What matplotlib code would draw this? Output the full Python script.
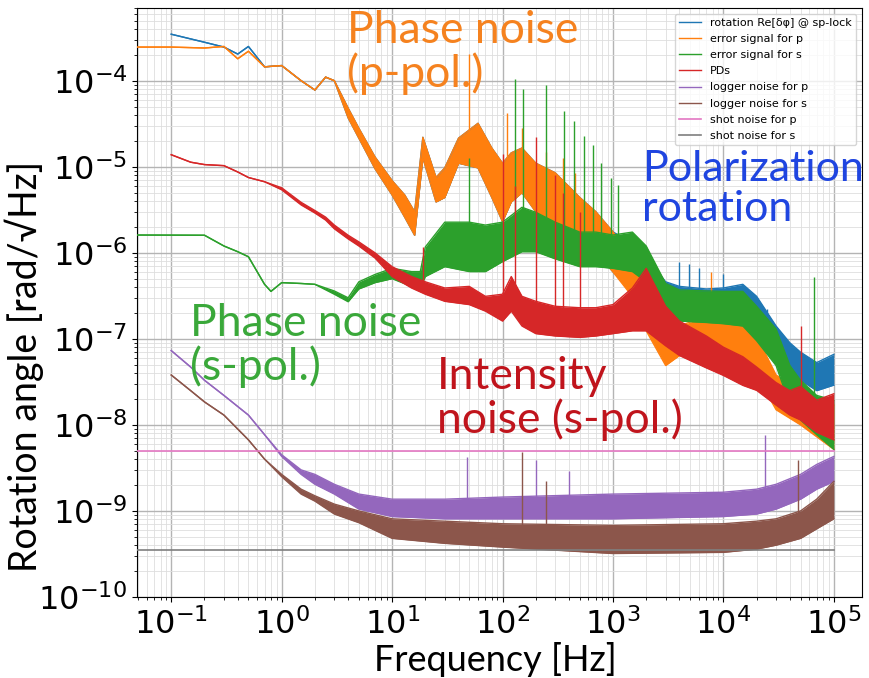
import matplotlib
matplotlib.use("Agg")
import matplotlib.pyplot as plt
from matplotlib.ticker import LogLocator, NullFormatter

# ---- data (Hz, rad/sqrt(Hz)) ----
# each noisy spectrum: upper / lower edge of the band, plus a few narrow lines

f_blue = [0.1, 0.2, 0.3, 0.4, 0.5, 0.7, 1, 1.5, 2, 2.5, 3, 4, 5, 7, 10, 13, 16, 19, 25, 30,
          40, 60, 80, 100, 120, 150, 200, 300, 500, 700, 1e3, 1.5e3, 2e3, 3e3, 4e3, 7e3,
          1e4, 1.5e4, 2e4, 3e4, 4e4, 5e4, 7e4, 1e5]
hi_blue = [3.47e-4, 2.8e-4, 2.46e-4, 2.04e-4, 2.5e-4, 1.45e-4, 1.5e-4, 1.0e-4, 7.8e-5, 1.1e-4,
           1.0e-4, 4.8e-5, 2.8e-5, 1.3e-5, 6.9e-6, 4.7e-6, 3.0e-6, 2.2e-5, 7.5e-6, 9.7e-6,
           2.15e-5, 3.2e-5, 1.65e-5, 1.1e-5, 1.45e-5, 1.65e-5, 1.1e-5, 8.5e-6, 4.4e-6, 3.0e-6,
           1.75e-6, 1.3e-6, 9e-7, 4.6e-7, 4.07e-7, 3.8e-7, 3.9e-7, 4.3e-7, 3.12e-7, 1.41e-7,
           9e-8, 7e-8, 5.3e-8, 6.6e-8]
lo_blue = [3.47e-4, 2.8e-4, 2.46e-4, 2.04e-4, 2.5e-4, 1.45e-4, 1.5e-4, 1.0e-4, 7.8e-5, 1.1e-4,
           1.0e-4, 3.7e-5, 2.15e-5, 9.5e-6, 4.7e-6, 2.6e-6, 1.6e-6, 1.27e-5, 3.9e-6, 4.4e-6,
           1.1e-5, 9.7e-6, 4.4e-6, 2.3e-6, 3.9e-6, 5e-6, 3.0e-6, 2e-6, 1.34e-6, 1.03e-6,
           6e-7, 4.0e-7, 3.1e-7, 2.1e-7, 1.9e-7, 1.84e-7, 1.9e-7, 1.9e-7, 1.41e-7, 6.4e-8,
           4.3e-8, 3.3e-8, 2.5e-8, 2.9e-8]

f_orange = [0.04, 0.1, 0.2, 0.3, 0.4, 0.5, 0.7, 1, 1.5, 2, 2.5, 3, 4, 5, 7, 10, 13, 16, 19, 25,
            30, 40, 60, 80, 100, 120, 150, 200, 300, 500, 700, 1e3, 1.5e3, 2e3, 3e3, 4e3, 7e3,
            1e4, 1.5e4, 2e4, 3e4, 5e4, 1e5]
hi_orange = [2.46e-4, 2.46e-4, 2.4e-4, 2.5e-4, 1.8e-4, 2.2e-4, 1.45e-4, 1.5e-4, 1.0e-4, 7.8e-5,
             1.1e-4, 1.0e-4, 4.8e-5, 2.8e-5, 1.3e-5, 6.9e-6, 4.7e-6, 3.0e-6, 2.2e-5, 7.5e-6,
             9.7e-6, 2.15e-5, 3.2e-5, 1.65e-5, 1.1e-5, 1.45e-5, 1.65e-5, 1.1e-5, 8.5e-6, 4.4e-6,
             3.0e-6, 1.75e-6, 9e-7, 4.1e-7, 1.24e-7, 1.41e-7, 1.84e-7, 1.9e-7, 1.6e-7, 1.08e-7,
             3.8e-8, 2.5e-8, 1.7e-8]
lo_orange = [2.46e-4, 2.46e-4, 2.4e-4, 2.5e-4, 1.8e-4, 2.2e-4, 1.45e-4, 1.5e-4, 1.0e-4, 7.8e-5,
             1.1e-4, 1.0e-4, 3.7e-5, 2.15e-5, 9.5e-6, 4.7e-6, 2.6e-6, 1.6e-6, 1.27e-5, 3.9e-6,
             4.4e-6, 1.1e-5, 9.7e-6, 4.4e-6, 2.3e-6, 3.9e-6, 5e-6, 3.0e-6, 2e-6, 1.34e-6,
             1.03e-6, 6e-7, 3.1e-7, 1.24e-7, 4.9e-8, 6.4e-8, 6.4e-8, 6.4e-8, 5.6e-8, 3.8e-8,
             1.5e-8, 1e-8, 5.2e-9]

f_green = [0.04, 0.2, 0.3, 0.4, 0.5, 0.7, 0.8, 1, 1.5, 2, 3, 4, 5, 7, 10, 15, 18, 20, 30, 50,
           70, 100, 150, 200, 300, 500, 700, 1e3, 1.5e3, 2e3, 3e3, 4e3, 7e3, 1e4, 1.5e4, 2e4,
           3e4, 4e4, 5e4, 7e4, 1e5]
hi_green = [1.61e-6, 1.6e-6, 1.2e-6, 1.03e-6, 9e-7, 4.3e-7, 3.56e-7, 4.5e-7, 4.4e-7, 4.3e-7,
            3.6e-7, 3.0e-7, 4.6e-7, 5.6e-7, 6.6e-7, 6.05e-7, 6.05e-7, 1.17e-6, 2.27e-6, 2.27e-6,
            2.1e-6, 2.27e-6, 3.38e-6, 2.96e-6, 2.27e-6, 1.74e-6, 1.74e-6, 1.61e-6, 1.74e-6, 1.2e-6,
            4.4e-7, 3.7e-7, 3.6e-7, 3.56e-7, 3.56e-7, 2.39e-7, 1.3e-7, 4.9e-8, 3.3e-8, 2.2e-8,
            1.94e-8]
lo_green = [1.61e-6, 1.6e-6, 1.2e-6, 1.03e-6, 9e-7, 4.3e-7, 3.56e-7, 4.5e-7, 4.4e-7, 4.3e-7,
            3.3e-7, 2.7e-7, 3.8e-7, 4.5e-7, 5.0e-7, 4.07e-7, 3.9e-7, 5.3e-7, 6.9e-7, 6.05e-7,
            6.05e-7, 7.9e-7, 1.03e-6, 1.03e-6, 8.5e-7, 6.9e-7, 6.9e-7, 6.6e-7, 6.05e-7, 4.6e-7,
            1.84e-7, 1.61e-7, 1.55e-7, 1.5e-7, 1.41e-7, 9.5e-8, 4.9e-8, 1.7e-8, 1.14e-8, 7.7e-9,
            5.2e-9]

f_red = [0.1, 0.15, 0.2, 0.3, 0.4, 0.5, 0.7, 1, 1.5, 2, 2.5, 3, 4, 5, 7, 10, 15, 20, 30, 50,
         70, 100, 120, 150, 200, 300, 500, 700, 1e3, 1.5e3, 2e3, 3e3, 4e3, 7e3, 1e4, 1.5e4,
         2e4, 3e4, 4e4, 5e4, 7e4, 1e5]
hi_red = [1.38e-5, 1.13e-5, 1.06e-5, 1.03e-5, 8.7e-6, 7.5e-6, 6.7e-6, 5.7e-6, 3.86e-6, 3.1e-6,
          2.6e-6, 2.1e-6, 1.6e-6, 1.34e-6, 1.0e-6, 6.9e-7, 5.3e-7, 4.6e-7, 3.9e-7, 4.07e-7,
          3.12e-7, 3.3e-7, 5.3e-7, 3.12e-7, 2.73e-7, 2.39e-7, 2.3e-7, 2.3e-7, 2.5e-7, 3.9e-7,
          6.6e-7, 2.39e-7, 1.61e-7, 1.08e-7, 8.0e-8, 6.2e-8, 4.7e-8, 3.1e-8, 2.5e-8, 2.8e-8,
          1.94e-8, 2.3e-8]
lo_red = [1.38e-5, 1.13e-5, 1.06e-5, 1.03e-5, 8.7e-6, 7.5e-6, 6.7e-6, 5.4e-6, 3.6e-6, 2.9e-6,
          2.4e-6, 1.9e-6, 1.45e-6, 1.2e-6, 8.7e-7, 5.3e-7, 3.9e-7, 3.3e-7, 2.73e-7, 2.5e-7,
          2.1e-7, 1.61e-7, 2.1e-7, 1.41e-7, 1.15e-7, 1.08e-7, 1.04e-7, 1.08e-7, 1.15e-7, 1.24e-7,
          1.24e-7, 8.3e-8, 6.4e-8, 4.6e-8, 3.76e-8, 2.88e-8, 2.52e-8, 1.7e-8, 1.3e-8, 1.14e-8,
          8.2e-9, 6.7e-9]

f_purple = [0.1, 0.15, 0.2, 0.3, 0.5, 0.7, 1, 1.5, 2, 3, 5, 10, 30, 100, 1e3, 1e4, 2e4, 3e4,
            5e4, 7e4, 1e5]
hi_purple = [7.3e-8, 4.7e-8, 3.3e-8, 2.2e-8, 1.3e-8, 7.7e-9, 4.5e-9, 3.0e-9, 2.66e-9, 2.04e-9,
             1.57e-9, 1.37e-9, 1.37e-9, 1.45e-9, 1.57e-9, 1.65e-9, 1.79e-9, 2.04e-9, 2.66e-9,
             3.47e-9, 4.3e-9]
lo_purple = [7.3e-8, 4.7e-8, 3.3e-8, 2.2e-8, 1.3e-8, 7.7e-9, 4.3e-9, 2.66e-9, 2.04e-9, 1.57e-9,
             1.05e-9, 8.6e-10, 8.1e-10, 8.1e-10, 8.1e-10, 8.6e-10, 9.2e-10, 1.05e-9, 1.37e-9,
             1.79e-9, 2.2e-9]

f_brown = [0.1, 0.15, 0.2, 0.3, 0.5, 0.7, 1, 1.5, 2, 3, 5, 10, 30, 100, 1e3, 1e4, 2e4, 3e4,
           5e4, 7e4, 1e5]
hi_brown = [3.8e-8, 2.5e-8, 1.85e-8, 1.3e-8, 6.7e-9, 4.0e-9, 2.66e-9, 1.79e-9, 1.5e-9, 1.2e-9,
            1.0e-9, 8.1e-10, 7.6e-10, 7.1e-10, 6.8e-10, 7.1e-10, 7.6e-10, 8.1e-10, 1.0e-9,
            1.37e-9, 2.2e-9]
lo_brown = [3.8e-8, 2.5e-8, 1.85e-8, 1.3e-8, 6.7e-9, 4.0e-9, 2.5e-9, 1.57e-9, 1.3e-9, 9.2e-10,
            7.3e-10, 4.8e-10, 4.2e-10, 3.8e-10, 3.2e-10, 3.3e-10, 3.6e-10, 4.0e-10, 4.8e-10,
            6.2e-10, 8.1e-10]

f_shot = [0.04, 1e5]
shot_p = [5.0e-9, 5.0e-9]
shot_s = [3.5e-10, 3.5e-10]

# narrow lines: frequency, foot, tip
spk_f_blue = [3.95e3, 4.9e3, 6.0e3, 1.0e4, 2.5e4]
spk_lo_blue = [3e-7, 3e-7, 3e-7, 3e-7, 1.5e-7]
spk_hi_blue = [7.9e-7, 7.5e-7, 6.6e-7, 5.6e-7, 2.2e-7]

spk_f_orange = [50, 110, 150, 250, 350, 450, 7.7e3]
spk_lo_orange = [1.65e-5, 1.1e-5, 5e-6, 3.0e-6, 2.5e-6, 1.5e-6, 1.5e-7]
spk_hi_orange = [2.04e-4, 4.2e-5, 2.8e-5, 1.5e-5, 1.27e-5, 8.5e-6, 6e-7]

spk_f_green = [50, 131, 152, 246, 358, 441, 544, 656, 775, 955, 1.1e3, 6.6e4]
spk_lo_green = [1e-6, 1.5e-6, 2e-6, 1.5e-6, 1.2e-6, 1e-6, 1e-6, 1e-6, 1e-6, 1e-6, 1e-6, 1.3e-8]
spk_hi_green = [1.27e-5, 1.05e-4, 8.1e-5, 8.8e-5, 4.4e-5, 3.4e-5, 2.3e-5, 1.8e-5, 1.1e-5,
                7.5e-6, 6.2e-6, 5.3e-7]

spk_f_red = [19, 100, 130, 200, 300, 350, 500, 5e4]
spk_lo_red = [4e-7, 2e-7, 2e-7, 1.5e-7, 1.5e-7, 1.5e-7, 1.5e-7, 1.5e-8]
spk_hi_red = [1.17e-6, 1.4e-5, 6e-6, 2.2e-5, 8e-6, 5e-6, 3e-6, 1.41e-7]

spk_f_purple = [48, 200, 400, 2.4e4]
spk_lo_purple = [1.4e-9, 1.4e-9, 1.4e-9, 1.6e-9]
spk_hi_purple = [4.2e-9, 3.9e-9, 2.9e-9, 7.7e-9]

spk_f_brown = [150, 250, 4.7e4]
spk_lo_brown = [6e-10, 6e-10, 8e-10]
spk_hi_brown = [4.9e-9, 2.2e-9, 3.9e-9]

series = [
    ("rotation Re[δφ] @ sp-lock", "#1f77b4", f_blue, hi_blue, lo_blue, spk_f_blue, spk_lo_blue, spk_hi_blue),
    ("error signal for p", "#ff7f0e", f_orange, hi_orange, lo_orange, spk_f_orange, spk_lo_orange, spk_hi_orange),
    ("error signal for s", "#2ca02c", f_green, hi_green, lo_green, spk_f_green, spk_lo_green, spk_hi_green),
    ("PDs", "#d62728", f_red, hi_red, lo_red, spk_f_red, spk_lo_red, spk_hi_red),
    ("logger noise for p", "#9467bd", f_purple, hi_purple, lo_purple, spk_f_purple, spk_lo_purple, spk_hi_purple),
    ("logger noise for s", "#8c564b", f_brown, hi_brown, lo_brown, spk_f_brown, spk_lo_brown, spk_hi_brown),
]

plt.rcParams["mathtext.fontset"] = "dejavuserif"
SANS = ["Lato", "DejaVu Sans"]

fig = plt.figure(figsize=(8.7, 6.78), dpi=100)
ax = fig.add_axes([0.1575, 0.1195, 0.8333, 0.8687])

# later series sit on top of earlier ones, like the original line plot
for i, (label, c, f, hi, lo, sf, slo, shi) in enumerate(series):
    z = 2 + i
    ax.fill_between(f, lo, hi, color=c, lw=0, zorder=z)
    ax.plot(f, hi, color=c, lw=1.0, label=label, zorder=z)
    ax.plot(f, lo, color=c, lw=1.0, zorder=z)
    ax.vlines(sf, slo, shi, color=c, lw=1.0, zorder=z)

ax.plot(f_shot, shot_p, color="#e377c2", lw=1.2, label="shot noise for p", zorder=9)
ax.plot(f_shot, shot_s, color="#7f7f7f", lw=1.2, label="shot noise for s", zorder=10)

ax.set_xscale("log")
ax.set_yscale("log")
ax.set_xlim(0.049, 1.8e5)
ax.set_ylim(1e-10, 7e-4)

for axis in (ax.xaxis, ax.yaxis):
    axis.set_major_locator(LogLocator(base=10, numticks=30))
    axis.set_minor_locator(LogLocator(base=10, subs=range(2, 10), numticks=300))
    axis.set_minor_formatter(NullFormatter())

ax.grid(True, which="major", color="#b4b4b4", lw=1.0)
ax.grid(True, which="minor", color="#dedede", lw=0.6)
ax.set_axisbelow(True)
ax.tick_params(which="major", labelsize=23)
ax.tick_params(axis="x", which="major", pad=5)

ax.set_xlabel("Frequency [Hz]", fontsize=26, family=SANS)
ax.set_ylabel("Rotation angle [rad/\u221aHz]", fontsize=27, family=SANS)
ax.xaxis.set_label_coords(0.494, -0.076)
ax.yaxis.set_label_coords(-0.128, 0.392)

leg = ax.legend(loc="upper right", fontsize=8, framealpha=0.8, labelspacing=0.55)
leg.set_zorder(20)

# annotations
note = dict(family=SANS, ha="left", va="top", linespacing=1.05)
fig.text(347 / 870, 1 - 10 / 678, "Phase noise\n(p-pol.)", color="#f5821f", fontsize=32, **note)
fig.text(642 / 870, 1 - 150 / 678, "Polarization\nrotation", color="#1f45e0", fontsize=31, **note)
fig.text(190 / 870, 1 - 303 / 678, "Phase noise\n(s-pol.)", color="#3aa83a", fontsize=32, **note)
fig.text(437 / 870, 1 - 356 / 678, "Intensity\nnoise (s-pol.)", color="#c0141c", fontsize=32, **note)

fig.savefig("out.png", dpi=100)
